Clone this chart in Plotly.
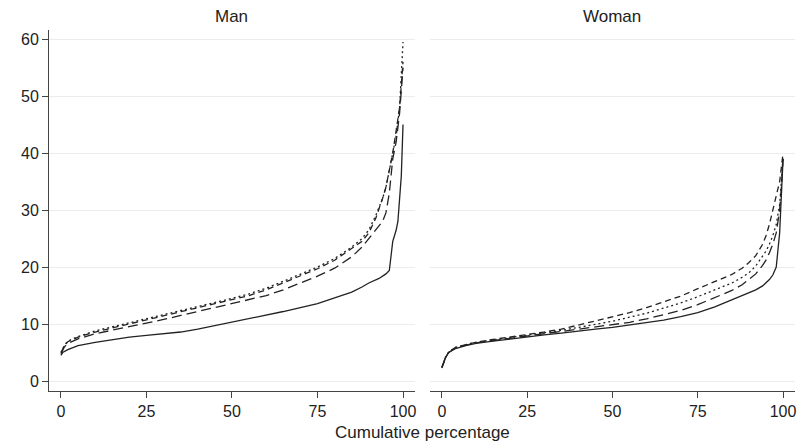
import plotly.graph_objects as go

# ---- data ----
man_x = [0, 0.5, 2, 5, 10, 15, 20, 25, 30, 35, 40, 45, 50, 55, 60, 65, 70, 75, 80, 85, 88, 90,
         93, 95, 96, 96.5, 97, 97.5, 98, 98.5, 99, 99.5, 100]
man_solid = [4.5, 5.0, 5.5, 6.2, 6.8, 7.3, 7.7, 8.0, 8.3, 8.6, 9.1, 9.7, 10.3, 10.9, 11.5, 12.2,
             12.9, 13.6, 14.6, 15.6, 16.5, 17.2, 18.0, 18.8, 19.4, 22.0, 24.5, 25.5, 26.5, 28.0,
             32.0, 36.0, 45.0]

man_x2 = [0, 0.5, 1, 2, 5, 10, 15, 20, 25, 30, 35, 40, 45, 50, 55, 60, 65, 70, 75, 80, 85, 88,
          90, 92, 94, 95, 96, 97, 98, 99, 99.5, 100]
man_dot = [5.0, 5.8, 6.3, 7.0, 7.8, 8.8, 9.5, 10.2, 10.9, 11.7, 12.4, 13.1, 13.8, 14.5, 15.3,
           16.3, 17.5, 18.7, 20.0, 21.5, 23.5, 25.0, 26.5, 29.0, 32.0, 34.0, 37.0, 40.0, 43.0,
           48.0, 53.0, 59.5]
man_dash = [5.0, 5.6, 6.2, 6.9, 7.7, 8.6, 9.3, 10.0, 10.7, 11.4, 12.1, 12.8, 13.5, 14.2, 15.0,
            16.0, 17.2, 18.4, 19.7, 21.2, 23.2, 24.5, 26.0, 28.5, 32.0, 34.0, 37.0, 40.0, 44.0,
            48.0, 52.0, 56.0]
man_longdash = [4.8, 5.4, 6.0, 6.6, 7.4, 8.3, 8.9, 9.5, 10.1, 10.8, 11.5, 12.2, 12.8, 13.5, 14.2,
                15.0, 16.0, 17.2, 18.4, 19.8, 21.8, 23.5, 25.0, 26.5, 28.0, 29.5, 33.0, 39.0,
                42.0, 47.0, 51.0, 55.0]

woman_x = [0, 0.5, 1, 2, 4, 7, 10, 15, 20, 25, 30, 35, 40, 45, 50, 55, 60, 65, 70, 75, 80, 85,
           88, 90, 92, 94, 95, 96, 97, 98, 99, 99.5, 100]
woman_solid = [2.3, 3.3, 4.0, 5.0, 5.7, 6.2, 6.6, 7.0, 7.4, 7.8, 8.1, 8.4, 8.8, 9.1, 9.4, 9.8,
               10.2, 10.7, 11.3, 12.0, 13.0, 14.3, 15.0, 15.5, 16.0, 16.7, 17.2, 17.8, 18.6,
               20.0, 26.0, 33.0, 39.0]
woman_dash = [2.4, 3.4, 4.1, 5.1, 5.9, 6.4, 6.8, 7.3, 7.7, 8.1, 8.6, 9.1, 9.8, 10.5, 11.2, 12.0,
              12.9, 13.9, 14.9, 16.2, 17.4, 18.7, 19.8, 20.8, 22.0, 24.0, 25.5, 27.5, 30.0,
              32.5, 35.0, 37.5, 40.0]
woman_dot = [2.4, 3.4, 4.1, 5.1, 5.9, 6.4, 6.8, 7.2, 7.6, 8.0, 8.4, 8.9, 9.4, 9.9, 10.5, 11.2,
             11.9, 12.8, 13.7, 14.8, 16.0, 17.2, 18.2, 19.0, 20.2, 21.8, 22.8, 24.0, 25.5, 27.5,
             31.0, 35.0, 39.5]
woman_longdash = [2.4, 3.4, 4.1, 5.0, 5.8, 6.3, 6.7, 7.1, 7.5, 7.9, 8.2, 8.6, 9.0, 9.4, 9.8,
                  10.3, 10.9, 11.6, 12.4, 13.4, 14.6, 15.9, 16.9, 17.8, 18.8, 20.3, 21.2, 22.5,
                  24.0, 26.0, 30.0, 34.0, 39.0]

x_ticks = [0, 25, 50, 75, 100]
y_ticks = [0, 10, 20, 30, 40, 50, 60]
panel_titles = ["Man", "Woman"]
x_title = "Cumulative percentage"

LINE = "#222222"
FONT = "Liberation Sans, Arial, sans-serif"
TICK_SIZE = 16
TITLE_SIZE = 17

fig = go.Figure()

def add(x, y, dash, xa, ya, name):
    fig.add_trace(go.Scatter(x=x, y=y, mode="lines", name=name, showlegend=False,
                             line=dict(color=LINE, width=1.3, dash=dash),
                             xaxis=xa, yaxis=ya))

add(man_x2, man_dot, "2px,3px", "x", "y", "dotted")
add(man_x2, man_dash, "6px,4px", "x", "y", "dash")
add(man_x2, man_longdash, "10px,5px", "x", "y", "long dash")
add(man_x, man_solid, "solid", "x", "y", "solid")

add(woman_x, woman_dot, "2px,3px", "x2", "y2", "dotted")
add(woman_x, woman_dash, "6px,4px", "x2", "y2", "dash")
add(woman_x, woman_longdash, "10px,5px", "x2", "y2", "long dash")
add(woman_x, woman_solid, "solid", "x2", "y2", "solid")

xaxis_common = dict(range=[-3.5, 103.5], tickvals=x_ticks, ticks="outside", ticklen=6,
                    tickcolor="#444", showline=True, linecolor="#444", linewidth=1,
                    showgrid=False, zeroline=False, fixedrange=True,
                    tickfont=dict(family=FONT, size=TICK_SIZE, color="#222"))
yaxis_common = dict(range=[-1.75, 61.6], tickvals=y_ticks, showgrid=True,
                    gridcolor="#ececec", gridwidth=1, zeroline=False,
                    tickfont=dict(family=FONT, size=TICK_SIZE, color="#222"))

fig.update_layout(
    width=802, height=435,
    margin=dict(l=41, r=15, t=22, b=52),
    paper_bgcolor="white", plot_bgcolor="white",
    xaxis=dict(domain=[0, 0.4906], anchor="y", **xaxis_common),
    xaxis2=dict(domain=[0.5107, 1], anchor="y2", **xaxis_common),
    yaxis=dict(anchor="x", ticks="outside", ticklen=6, tickcolor="#444", showline=True,
               linecolor="#444", linewidth=1, **yaxis_common),
    yaxis2=dict(anchor="x2", matches="y", showticklabels=False, ticks="", showline=False,
                **yaxis_common),
    annotations=[
        dict(text=panel_titles[0], x=0.2453, y=1, xref="paper", yref="paper",
             xanchor="center", yanchor="bottom", yshift=2, showarrow=False,
             font=dict(family=FONT, size=TITLE_SIZE, color="#222")),
        dict(text=panel_titles[1], x=0.7553, y=1, xref="paper", yref="paper",
             xanchor="center", yanchor="bottom", yshift=2, showarrow=False,
             font=dict(family=FONT, size=TITLE_SIZE, color="#222")),
        dict(text=x_title, x=0.5, y=0, xref="paper", yref="paper",
             xanchor="center", yanchor="top", yshift=-30, showarrow=False,
             font=dict(family=FONT, size=TITLE_SIZE, color="#222")),
    ],
)

fig.write_html("out.html")
